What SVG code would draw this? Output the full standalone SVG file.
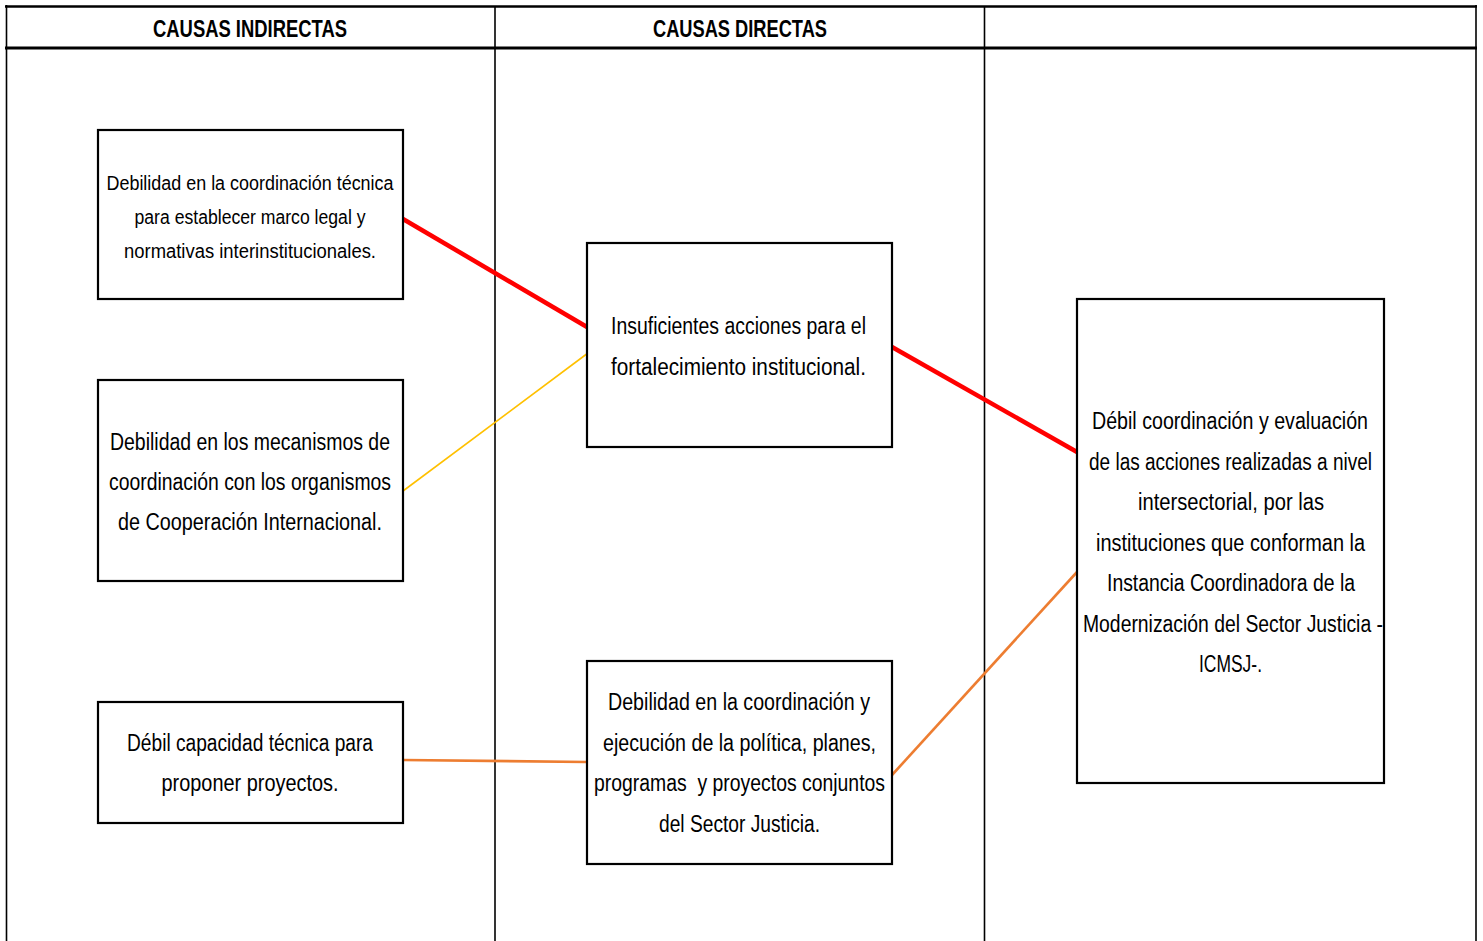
<svg xmlns="http://www.w3.org/2000/svg" width="1483" height="941" viewBox="0 0 1483 941">
  <style>
    .grid { stroke: #000; fill: none; }
    .box { fill: #fff; stroke: #000; stroke-width: 2.2; }
    .hdr { font-family: "Liberation Sans Narrow", "Liberation Sans", Arial, sans-serif; font-weight: bold; font-size: 24px; fill: #000; text-anchor: middle; }
    .t { font-family: "Liberation Sans Narrow", "Liberation Sans", Arial, sans-serif; fill: #000; text-anchor: middle; }
    .s20 { font-size: 20px; }
    .s23 { font-size: 23px; }
    .red { stroke: #ff0000; stroke-width: 4.5; fill: none; }
    .yel { stroke: #ffc000; stroke-width: 1.6; fill: none; }
    .org { stroke: #ed7d31; stroke-width: 2.6; fill: none; }
  </style>

  <rect x="0" y="0" width="1483" height="941" fill="#fff"/>

  <!-- table frame: header band and three columns -->
  <g id="table">
    <line class="grid" x1="5" y1="6.5" x2="1477" y2="6.5" stroke-width="2.5"/>
    <line class="grid" x1="5" y1="48" x2="1477" y2="48" stroke-width="3"/>
    <line class="grid" x1="6.5" y1="5" x2="6.5" y2="941" stroke-width="1.6"/>
    <line class="grid" x1="495" y1="6" x2="495" y2="941" stroke-width="1.6"/>
    <line class="grid" x1="984.5" y1="6" x2="984.5" y2="941" stroke-width="1.6"/>
    <line class="grid" x1="1476" y1="5" x2="1476" y2="941" stroke-width="1.6"/>
    <text class="hdr" x="250" y="37" textLength="194" lengthAdjust="spacingAndGlyphs">CAUSAS INDIRECTAS</text>
    <text class="hdr" x="740" y="37" textLength="174" lengthAdjust="spacingAndGlyphs">CAUSAS DIRECTAS</text>
  </g>

  <!-- connectors -->
  <g id="connectors">
    <line class="red" x1="403" y1="219" x2="587" y2="327"/>
    <line class="red" x1="892" y1="347" x2="1077" y2="452"/>
    <line class="yel" x1="403" y1="491" x2="588" y2="353"/>
    <line class="org" x1="403" y1="760" x2="587" y2="762"/>
    <line class="org" x1="892" y1="775" x2="1077" y2="572"/>
  </g>

  <g id="indirecta-1">
    <rect class="box" x="98" y="130" width="305" height="169"/>
    <text class="t s20" x="250" y="190" textLength="287" lengthAdjust="spacingAndGlyphs">Debilidad en la coordinación técnica</text>
    <text class="t s20" x="250" y="224" textLength="231" lengthAdjust="spacingAndGlyphs">para establecer marco legal y</text>
    <text class="t s20" x="250" y="258" textLength="252" lengthAdjust="spacingAndGlyphs">normativas interinstitucionales.</text>
  </g>

  <g id="indirecta-2">
    <rect class="box" x="98" y="380" width="305" height="201"/>
    <text class="t s23" x="250" y="450" textLength="280" lengthAdjust="spacingAndGlyphs">Debilidad en los mecanismos de</text>
    <text class="t s23" x="250" y="490" textLength="282" lengthAdjust="spacingAndGlyphs">coordinación con los organismos</text>
    <text class="t s23" x="250" y="530" textLength="264" lengthAdjust="spacingAndGlyphs">de Cooperación Internacional.</text>
  </g>

  <g id="indirecta-3">
    <rect class="box" x="98" y="702" width="305" height="121"/>
    <text class="t s23" x="250" y="751" textLength="246" lengthAdjust="spacingAndGlyphs">Débil capacidad técnica para</text>
    <text class="t s23" x="250" y="791" textLength="177" lengthAdjust="spacingAndGlyphs">proponer proyectos.</text>
  </g>

  <g id="directa-1">
    <rect class="box" x="587" y="243" width="305" height="204"/>
    <text class="t s23" x="738.5" y="334" textLength="255" lengthAdjust="spacingAndGlyphs">Insuficientes acciones para el</text>
    <text class="t s23" x="738.5" y="375" textLength="255" lengthAdjust="spacingAndGlyphs">fortalecimiento institucional.</text>
  </g>

  <g id="directa-2">
    <rect class="box" x="587" y="661" width="305" height="203"/>
    <text class="t s23" x="739" y="710" textLength="262" lengthAdjust="spacingAndGlyphs">Debilidad en la coordinación y</text>
    <text class="t s23" x="739.5" y="751" textLength="273" lengthAdjust="spacingAndGlyphs">ejecución de la política, planes,</text>
    <text class="t s23" x="739.5" y="791" textLength="291" lengthAdjust="spacingAndGlyphs" xml:space="preserve">programas  y proyectos conjuntos</text>
    <text class="t s23" x="739.5" y="832" textLength="161" lengthAdjust="spacingAndGlyphs">del Sector Justicia.</text>
  </g>

  <g id="efecto">
    <rect class="box" x="1077" y="299" width="307" height="484"/>
    <text class="t s23" x="1230" y="429" textLength="276" lengthAdjust="spacingAndGlyphs">Débil coordinación y evaluación</text>
    <text class="t s23" x="1230.5" y="470" textLength="283" lengthAdjust="spacingAndGlyphs">de las acciones realizadas a nivel</text>
    <text class="t s23" x="1231" y="510" textLength="186" lengthAdjust="spacingAndGlyphs">intersectorial, por las</text>
    <text class="t s23" x="1230.5" y="551" textLength="269" lengthAdjust="spacingAndGlyphs">instituciones que conforman la</text>
    <text class="t s23" x="1231" y="591" textLength="248" lengthAdjust="spacingAndGlyphs">Instancia Coordinadora de la</text>
    <text class="t s23" x="1233" y="632" textLength="300" lengthAdjust="spacingAndGlyphs">Modernización del Sector Justicia -</text>
    <text class="t s23" x="1230.5" y="672" textLength="63" lengthAdjust="spacingAndGlyphs">ICMSJ-.</text>
  </g>
</svg>
